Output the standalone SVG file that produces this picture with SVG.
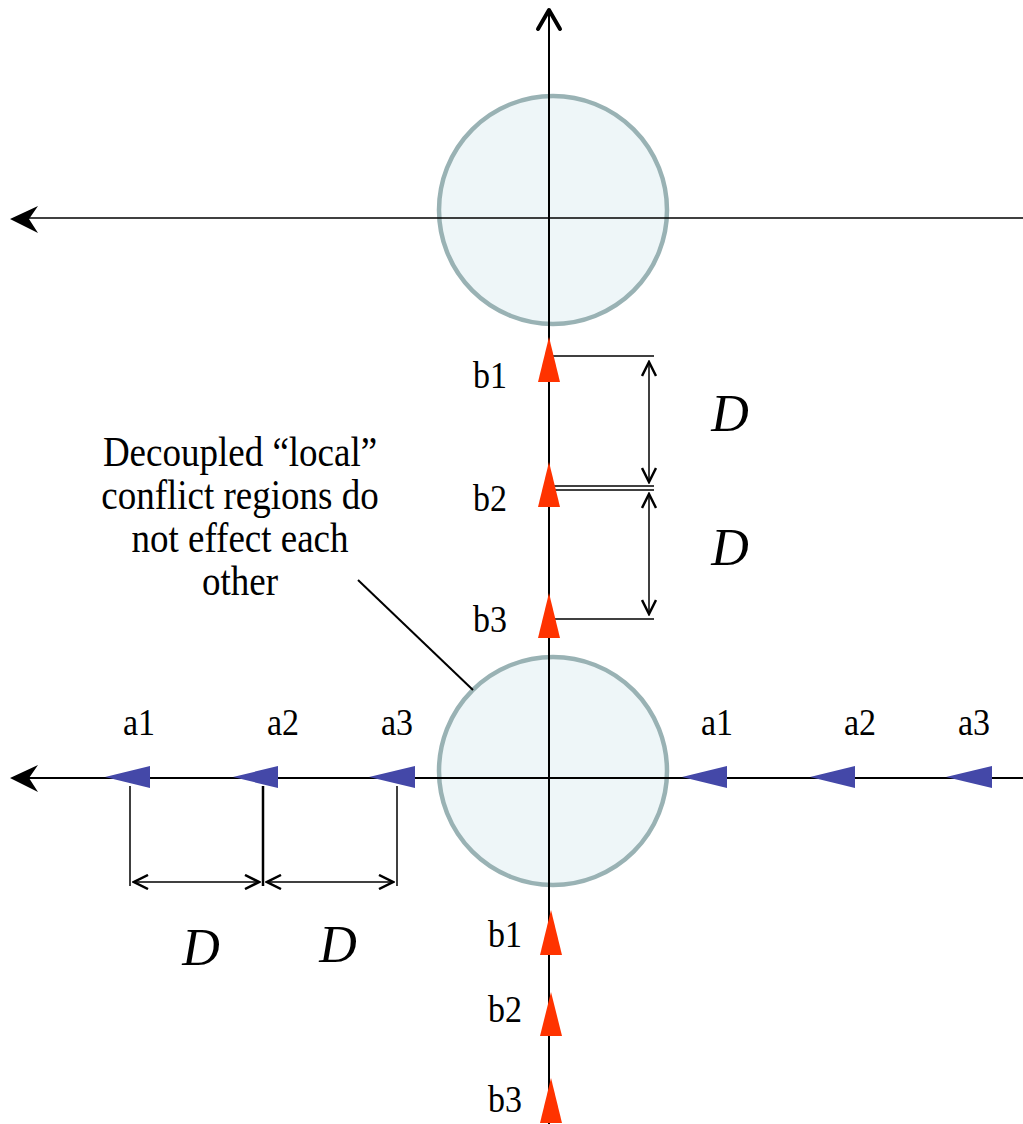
<svg xmlns="http://www.w3.org/2000/svg" width="1023" height="1124" viewBox="0 0 1023 1124">
<defs>
<style>
.lbl{font-family:"Liberation Serif","Times New Roman",serif;font-size:34px;fill:#000;text-anchor:middle}
.call{font-family:"Liberation Serif","Times New Roman",serif;font-size:37px;fill:#000;text-anchor:middle}
.dd{font-family:"Liberation Serif","Times New Roman",serif;font-style:italic;font-size:52px;fill:#000;text-anchor:middle}
.zone{fill:#EEF6F8;stroke:#99B2B4;stroke-width:4.5}
.ax{stroke:#000;stroke-width:2;fill:none}
.thin{stroke:#000;stroke-width:1.5;fill:none}
.red{fill:#FF3300}
.blue{fill:#4448A8}
</style>
<marker id="dim" viewBox="-16 -8 18 16" markerWidth="18" markerHeight="16" refX="0" refY="0" orient="auto-start-reverse" markerUnits="userSpaceOnUse">
<path d="M-14,-7 L0,0 L-14,7" fill="none" stroke="#000" stroke-width="2.5"/>
</marker>
</defs>
<rect width="1023" height="1124" fill="#fff"/>
<g id="zone-top"><circle class="zone" cx="553" cy="210" r="114"/></g>
<g id="zone-bottom"><circle class="zone" cx="553" cy="771" r="114"/></g>
<g id="connectors">
<line class="ax" x1="549" y1="12" x2="549" y2="1124"/>
<polyline points="538,29 549,10 560,29" fill="none" stroke="#000" stroke-width="4" stroke-linecap="round" stroke-linejoin="round"/>
<line class="thin" x1="1023" y1="218" x2="20" y2="218"/>
<path d="M10,219 L38,206 L29,219 L38,233 Z" fill="#000"/>
<line class="ax" x1="1023" y1="778" x2="20" y2="778"/>
<path d="M10,778 L38,765 L29,778 L38,792 Z" fill="#000"/>
<line x1="358" y1="580" x2="473" y2="690" stroke="#000" stroke-width="2"/>
<line class="thin" x1="553" y1="356" x2="654" y2="356"/>
<line class="thin" x1="553" y1="486" x2="654" y2="486"/>
<line class="thin" x1="553" y1="490" x2="654" y2="490"/>
<line class="thin" x1="553" y1="619" x2="654" y2="619"/>
<line class="thin" x1="649" y1="362" x2="649" y2="482" marker-start="url(#dim)" marker-end="url(#dim)"/>
<line class="thin" x1="649" y1="494" x2="649" y2="614" marker-start="url(#dim)" marker-end="url(#dim)"/>
<line class="thin" x1="130" y1="786" x2="130" y2="886"/>
<line x1="263" y1="786" x2="263" y2="886" stroke="#000" stroke-width="2.5"/>
<line class="thin" x1="397" y1="786" x2="397" y2="886"/>
<line class="thin" x1="134" y1="882" x2="259" y2="882" marker-start="url(#dim)" marker-end="url(#dim)"/>
<line class="thin" x1="267" y1="882" x2="393" y2="882" marker-start="url(#dim)" marker-end="url(#dim)"/>
</g>
<g id="b-top">
<polygon class="red" points="549,337 538,382 560,382"/>
<polygon class="red" points="549,462 538,507 560,507"/>
<polygon class="red" points="549,593 538,638 560,638"/>
<text class="lbl" transform="translate(490,388) scale(1,1.1)">b1</text>
<text class="lbl" transform="translate(490,511) scale(1,1.1)">b2</text>
<text class="lbl" transform="translate(490,632) scale(1,1.1)">b3</text>
</g>
<g id="b-bottom">
<polygon class="red" points="551,910 540,955 562,955"/>
<polygon class="red" points="551,992 540,1036 562,1036"/>
<polygon class="red" points="551,1078 540,1123 562,1123"/>
<text class="lbl" transform="translate(505,947) scale(1,1.1)">b1</text>
<text class="lbl" transform="translate(505,1022) scale(1,1.1)">b2</text>
<text class="lbl" transform="translate(505,1112) scale(1,1.1)">b3</text>
</g>
<g id="a-left">
<polygon class="blue" points="105,777 150,766 150,788"/>
<polygon class="blue" points="233,777 278,766 278,788"/>
<polygon class="blue" points="369,777 415,766 415,788"/>
<text class="lbl" transform="translate(139,735) scale(1,1.1)">a1</text>
<text class="lbl" transform="translate(283,735) scale(1,1.1)">a2</text>
<text class="lbl" transform="translate(397,735) scale(1,1.1)">a3</text>
</g>
<g id="a-right">
<polygon class="blue" points="682,777 727,766 727,788"/>
<polygon class="blue" points="810,777 855,766 855,788"/>
<polygon class="blue" points="946,777 992,766 992,788"/>
<text class="lbl" transform="translate(717,735) scale(1,1.1)">a1</text>
<text class="lbl" transform="translate(860,735) scale(1,1.1)">a2</text>
<text class="lbl" transform="translate(974,735) scale(1,1.1)">a3</text>
</g>
<g id="dims">
<text class="dd" x="730" y="431">D</text>
<text class="dd" x="730" y="565">D</text>
<text class="dd" x="201" y="965">D</text>
<text class="dd" x="338" y="962">D</text>
</g>
<g id="callout">
<text class="call" transform="translate(240,466) scale(1,1.13)">Decoupled “local”</text>
<text class="call" transform="translate(240,509) scale(1,1.13)">conflict regions do</text>
<text class="call" transform="translate(240,552) scale(1,1.13)">not effect each</text>
<text class="call" transform="translate(240,595) scale(1,1.13)">other</text>
</g>
</svg>
